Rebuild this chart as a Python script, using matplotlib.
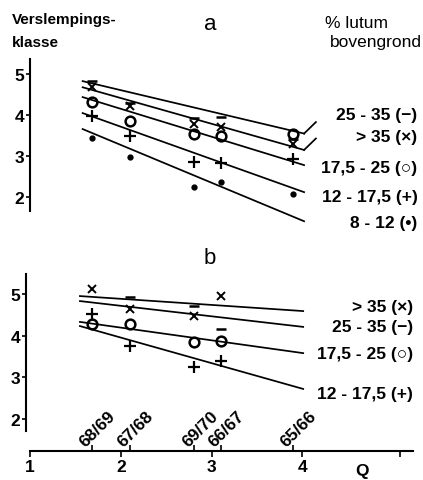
import numpy as np
import matplotlib.pyplot as plt

# Q-waarden van de seizoenen (gemeenschappelijke x-as)
seasons = ["68/69", "67/68", "69/70", "66/67", "65/66"]
q_vals = [1.68, 2.10, 2.81, 3.10, 3.90]

# --- figuur a: waarnemingen per lutumklasse
a_dash = [4.83, 4.29, 3.93, 3.95, 3.42]     # 25-35
a_cross = [4.68, 4.22, 3.78, 3.71, 3.29]    # > 35
a_circle = [4.32, 3.85, 3.54, 3.49, 3.54]   # 17,5-25
a_plus = [3.98, 3.49, 2.85, 2.83, 2.93]     # 12-17,5
a_dot = [3.44, 2.97, 2.24, 2.37, 2.07]      # 8-12

# getrokken lijnen figuur a (begin/eind)
a_line_q = [1.58, 4.02]
a_lines = {
    "25 - 35 (\u2212)": [4.83, 3.55],
    "> 35 (\u00d7)": [4.68, 3.15],
    "17,5 - 25 (\u25cb)": [4.44, 2.78],
    "12 - 17,5 (+)": [4.05, 2.12],
    "8 - 12 (\u2022)": [3.66, 1.41],
}
a_label_y = [4.02, 3.49, 2.73, 2.02, 1.39]

# --- figuur b
b_q = q_vals[:4]
b_cross = [5.12, 4.64, 4.47, 4.95]
b_dash = [np.nan, 4.93, 4.71, 4.16]
b_circle = [4.28, 4.28, 3.85, 3.87]
b_plus = [4.52, 3.75, 3.25, 3.39]

b_line_q = [1.55, 4.01]
b_lines = {
    "> 35 (\u00d7)": [4.95, 4.59],
    "25 - 35 (\u2212)": [4.83, 4.21],
    "17,5 - 25 (\u25cb)": [4.33, 3.58],
    "12 - 17,5 (+)": [4.23, 2.72],
}
b_label_y = [4.71, 4.21, 3.56, 2.60]

plt.rcParams['font.family'] = ['Liberation Sans', 'DejaVu Sans']
plt.rcParams['font.weight'] = 'bold'

W, H = 423, 481
fig = plt.figure(figsize=(W / 100, H / 100), dpi=100)

def frac(x, y):
    return x / W, 1 - y / H

# assen in pixelposities
x0, x1 = 30, 413
ax_a = fig.add_axes([x0 / W, 1 - 212 / H, (x1 - x0) / W, 152 / H])
ax_b = fig.add_axes([x0 / W, 1 - 452 / H, (x1 - x0) / W, 177 / H])

lw = 1.25
col = 'black'

for ax in (ax_a, ax_b):
    ax.set_xlim(1, 5.22)
    ax.spines['top'].set_visible(False)
    ax.spines['right'].set_visible(False)
    ax.spines['left'].set_linewidth(1.5)
    ax.set_yticks([2, 3, 4, 5])
    ax.tick_params(axis='y', direction='out', length=3, width=1.2, pad=1,
                   labelsize=12.5)

# ---------- figuur a
ax_a.set_ylim(1.66, 5.37)
ax_a.spines['bottom'].set_visible(False)
ax_a.set_xticks([])

mk = dict(color=col, linestyle='none')
ax_a.plot(q_vals, a_dash, marker='_', ms=7, mew=1.8, **mk)
ax_a.plot(q_vals, a_cross, marker='x', ms=6, mew=1.4, **mk)
ax_a.plot(q_vals, a_circle, marker='o', ms=7, mew=1.8, mfc='white', **mk)
ax_a.plot(q_vals, a_plus, marker='+', ms=8.5, mew=1.6, **mk)
ax_a.plot(q_vals, a_dot, marker='o', ms=3.5, **mk)

for (name, ys), ly in zip(a_lines.items(), a_label_y):
    ax_a.plot(a_line_q, ys, color=col, lw=lw, clip_on=False)
    ax_a.text(5.27, ly, name, ha='right', va='center', fontsize=12.5,
              clip_on=False)

# verbindingsstreepjes naar de labels
for ys in list(a_lines.values())[:2]:
    ax_a.plot([a_line_q[1], a_line_q[1] + 0.13], [ys[1], ys[1] + 0.28],
              color=col, lw=lw, clip_on=False)

# ---------- figuur b
ax_b.set_ylim(1.23, 5.48)
ax_b.spines['left'].set_bounds(1.72, 5.48)
ax_b.spines['left'].set_position(('outward', 3))
ax_b.spines['bottom'].set_linewidth(1.5)

ax_b.plot(b_q, b_cross, marker='x', ms=6, mew=1.4, **mk)
ax_b.plot(b_q, b_dash, marker='_', ms=7, mew=1.8, **mk)
ax_b.plot(b_q, b_circle, marker='o', ms=7, mew=1.8, mfc='white', **mk)
ax_b.plot(b_q, b_plus, marker='+', ms=8.5, mew=1.6, **mk)

for (name, ys), ly in zip(b_lines.items(), b_label_y):
    ax_b.plot(b_line_q, ys, color=col, lw=lw)
    ax_b.text(5.22, ly, name, ha='right', va='center', fontsize=12.5,
              clip_on=False)

# Q-as
ax_b.set_xticks([1, 2, 3, 4, 5.08])
ax_b.set_xticklabels(['1', '2', '3', '4', ''])
ax_b.tick_params(axis='x', direction='out', length=4, width=1.2, pad=2,
                 labelsize=12.5)
ax_b.set_xticks(q_vals, minor=True)
ax_b.tick_params(axis='x', which='minor', direction='in', length=4, width=1.2)
for q, s in zip(q_vals, seasons):
    ax_b.text(q - 0.07, 1.33, s, rotation=45, rotation_mode='anchor',
              ha='left', va='baseline', fontsize=12.5)
ax_b.text(4.66, 0.93, 'Q', ha='center', va='top', fontsize=12.5,
          clip_on=False)

# koppen
fig.text(*frac(12, 20), 'Verslempings-', ha='left', va='center',
         fontsize=11)
fig.text(*frac(12, 43), 'klasse', ha='left', va='center', fontsize=11)
fig.text(*frac(325, 23), '% lutum', ha='left', va='center', fontsize=12.5,
         fontweight='normal')
fig.text(*frac(330, 43), 'bovengrond', ha='left', va='center',
         fontsize=12.5, fontweight='normal')
fig.text(*frac(210, 25), 'a', ha='center', va='center', fontsize=16,
         fontweight='normal')
fig.text(*frac(210, 258), 'b', ha='center', va='center', fontsize=16,
         fontweight='normal')

fig.savefig('out.png', dpi=100)
